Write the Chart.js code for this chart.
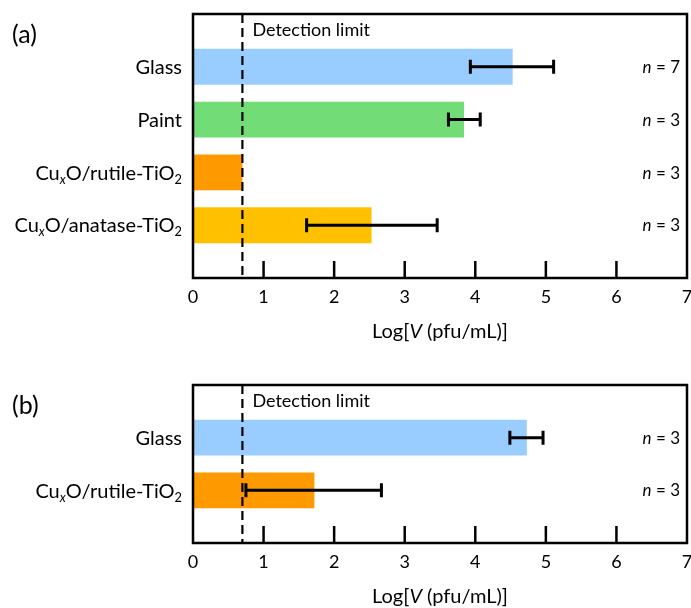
<!DOCTYPE html>
<html lang="en">
<head>
    <meta charset="UTF-8">
    <title>Log V - detection limit</title>
    <script src="https://cdn.jsdelivr.net/npm/chart.js"></script>
    <style>
        body { margin: 0; background: #fff; width: 691px; height: 608px; overflow: hidden; position: relative; }
        .painel { position: absolute; left: 0; width: 691px; }
        #painelA { top: 0; height: 350px; }
        #painelB { top: 350px; height: 258px; }
    </style>
</head>
<body>
    <div class="painel" id="painelA"><canvas id="canvasA"></canvas></div>
    <div class="painel" id="painelB"><canvas id="canvasB"></canvas></div>

<script>
    const FONTE = 'Lato, "Open Sans", sans-serif';

    // painel (a)
    const categoriasA = ['Glass', 'Paint', 'Cu_{*x*}O/rutile-TiO_{2}', 'Cu_{*x*}O/anatase-TiO_{2}'];
    const valoresA = [4.53, 3.84, 0.70, 2.53];
    const erroMinA = [3.93, 3.62, null, 1.61];
    const erroMaxA = [5.11, 4.07, null, 3.46];
    const amostrasA = [7, 3, 3, 3];
    const coresA = ['#99ccff', '#72dc76', '#ff9900', '#ffc000'];

    // painel (b)
    const categoriasB = ['Glass', 'Cu_{*x*}O/rutile-TiO_{2}'];
    const valoresB = [4.73, 1.72];
    const erroMinB = [4.49, 0.75];
    const erroMaxB = [4.96, 2.67];
    const amostrasB = [3, 3];
    const coresB = ['#99ccff', '#ff9900'];

    const limiteDeteccao = 0.70;
    const ticksX = [0, 1, 2, 3, 4, 5, 6, 7];
    const tituloX = 'Log[*V* (pfu/mL)]';

    // texto com italico (*..*) e subscrito (_{..})
    function partesTexto(str) {
        const partes = [];
        let italico = false, sub = false, buf = '';
        const empurra = () => { if (buf) partes.push({ t: buf, italico, sub }); buf = ''; };
        for (let i = 0; i < str.length; i++) {
            const c = str[i];
            if (c === '*') { empurra(); italico = !italico; }
            else if (c === '_' && str[i + 1] === '{') { empurra(); sub = true; i++; }
            else if (c === '}' && sub) { empurra(); sub = false; }
            else buf += c;
        }
        empurra();
        return partes;
    }

    function escreve(ctx, str, x, yCentro, alinhamento, tamanho) {
        const partes = partesTexto(str);
        const fonte = p => (p.italico ? 'italic ' : '') + (p.sub ? tamanho * 0.64 : tamanho) + 'px ' + FONTE;
        let total = 0;
        partes.forEach(p => { ctx.font = fonte(p); p.w = ctx.measureText(p.t).width; total += p.w; });
        let cx = alinhamento === 'right' ? x - total : alinhamento === 'center' ? x - total / 2 : x;
        const base = yCentro + tamanho * 0.36;
        ctx.textAlign = 'left';
        ctx.textBaseline = 'alphabetic';
        partes.forEach(p => {
            ctx.font = fonte(p);
            ctx.fillText(p.t, cx, p.sub ? base + tamanho * 0.2 : base);
            cx += p.w;
        });
    }

    const pluginDecoracao = {
        id: 'decoracao',
        afterDatasetsDraw(chart, args, op) {
            const ctx = chart.ctx;
            const area = chart.chartArea;
            const x = chart.scales.x, y = chart.scales.y;
            ctx.save();
            ctx.fillStyle = '#000';
            ctx.strokeStyle = '#000';

            // linha do limite de deteccao
            const xd = x.getPixelForValue(limiteDeteccao);
            ctx.lineWidth = 2.2;
            ctx.setLineDash([9, 5]);
            ctx.beginPath();
            ctx.moveTo(xd, area.top);
            ctx.lineTo(xd, area.bottom);
            ctx.stroke();
            ctx.setLineDash([]);
            escreve(ctx, 'Detection limit', xd + 10, area.top + 16, 'left', 18);

            // barras de erro
            ctx.lineWidth = 3;
            op.erroMin.forEach((lo, i) => {
                if (lo === null) return;
                const yc = y.getPixelForValue(i + 1);
                const x1 = x.getPixelForValue(lo), x2 = x.getPixelForValue(op.erroMax[i]);
                ctx.beginPath();
                ctx.moveTo(x1, yc); ctx.lineTo(x2, yc);
                ctx.moveTo(x1, yc - 7); ctx.lineTo(x1, yc + 7);
                ctx.moveTo(x2, yc - 7); ctx.lineTo(x2, yc + 7);
                ctx.stroke();
            });

            // n = ...
            op.amostras.forEach((n, i) => {
                escreve(ctx, '*n* = ' + n, area.right - 7, y.getPixelForValue(i + 1), 'right', 17);
            });

            // rotulos das categorias
            op.categorias.forEach((c, i) => {
                escreve(ctx, c, area.left - 11, y.getPixelForValue(i + 1), 'right', 20);
            });

            // moldura e marcas internas
            ctx.lineWidth = 2.5;
            ctx.strokeRect(area.left, area.top, area.right - area.left, area.bottom - area.top);
            ticksX.forEach(v => {
                const px = x.getPixelForValue(v);
                if (v > x.min && v < x.max) {
                    ctx.beginPath();
                    ctx.moveTo(px, area.bottom);
                    ctx.lineTo(px, area.bottom - 17);
                    ctx.stroke();
                }
                escreve(ctx, String(v), px, area.bottom + 19, 'center', 18);
            });

            // titulo do eixo x e letra do painel
            escreve(ctx, tituloX, (area.left + area.right) / 2, area.bottom + 53, 'center', 20);
            escreve(ctx, op.letra, 12, area.top + 20, 'left', 25);
            ctx.restore();
        }
    };

    function criaGrafico(id, categorias, valores, erroMin, erroMax, amostras, cores, letra, padding) {
        const config = {
            type: 'bar',
            data: {
                labels: ['', ...categorias, ''],
                datasets: [{
                    data: [null, ...valores, null],
                    backgroundColor: ['transparent', ...cores, 'transparent'],
                    borderWidth: 0,
                    barPercentage: 0.68,
                    categoryPercentage: 1
                }]
            },
            plugins: [pluginDecoracao],
            options: {
                indexAxis: 'y',
                responsive: true,
                maintainAspectRatio: false,
                animation: false,
                layout: { padding: padding },
                plugins: {
                    legend: { display: false },
                    tooltip: { enabled: false },
                    decoracao: { categorias, erroMin, erroMax, amostras, letra }
                },
                scales: {
                    x: {
                        display: false,
                        min: ticksX[0],
                        max: ticksX[ticksX.length - 1]
                    },
                    y: {
                        display: false,
                        offset: false
                    }
                }
            }
        };
        return new Chart(document.getElementById(id), config);
    }

    const graficoA = criaGrafico('canvasA', categoriasA, valoresA, erroMinA, erroMaxA, amostrasA, coresA, '(a)',
        { left: 193, top: 14, right: 4, bottom: 72 });
    const graficoB = criaGrafico('canvasB', categoriasB, valoresB, erroMinB, erroMaxB, amostrasB, coresB, '(b)',
        { left: 193, top: 35, right: 4, bottom: 65 });
</script>
</body>
</html>
